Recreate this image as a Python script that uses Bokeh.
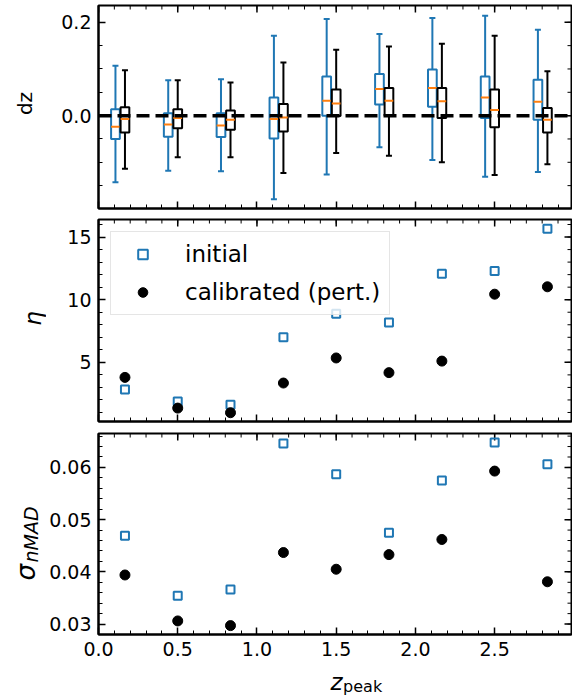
import numpy as np
from math import pi
from bokeh.plotting import figure
from bokeh.layouts import column, row
from bokeh.models import (Range1d, FixedTicker, PrintfTickFormatter,
                          Span, Legend, LegendItem, ColumnDataSource)
from bokeh.core.properties import value
from bokeh.embed import file_html
from bokeh.resources import INLINE

# ---------------- data ----------------
z_bins = [0.167, 0.5, 0.833, 1.167, 1.5, 1.833, 2.167, 2.5, 2.833]

# box statistics of dz (whisker low, Q1, median, Q3, whisker high)
init_lo  = [-0.143, -0.118, -0.119, -0.179, -0.126, -0.068, -0.095, -0.131, -0.121]
init_q1  = [-0.050, -0.045, -0.046, -0.049,  0.000,  0.024,  0.019, -0.005, -0.009]
init_med = [-0.024, -0.019, -0.021, -0.007,  0.032,  0.057,  0.059,  0.039,  0.030]
init_q3  = [ 0.0135, 0.005,  0.005,  0.039,  0.084,  0.089,  0.099,  0.084,  0.077]
init_hi  = [ 0.107,  0.076,  0.078,  0.171,  0.207,  0.175,  0.209,  0.214,  0.184]

cal_lo  = [-0.114, -0.089, -0.089, -0.123, -0.080, -0.086, -0.100, -0.127, -0.104]
cal_q1  = [-0.036, -0.027, -0.030, -0.034, -0.001,  0.000, -0.005, -0.025, -0.036]
cal_med = [-0.007, -0.005, -0.009, -0.004,  0.026,  0.032,  0.031,  0.012, -0.009]
cal_q3  = [ 0.018,  0.0135, 0.011,  0.025,  0.056,  0.059,  0.059,  0.056,  0.0165]
cal_hi  = [ 0.097,  0.076,  0.071,  0.114,  0.141,  0.148,  0.154,  0.171,  0.095]

# outlier fraction eta
eta_init = [2.84, 1.88, 1.62, 7.0, 8.87, 8.18, 12.07, 12.3, 15.67]
eta_cal  = [3.8, 1.35, 0.98, 3.35, 5.35, 4.18, 5.1, 10.44, 11.03]

# sigma_nMAD
sig_init = [0.0469, 0.0354, 0.0366, 0.0646, 0.0587, 0.0475, 0.0575, 0.0648, 0.0606]
sig_cal  = [0.0394, 0.0306, 0.0297, 0.0437, 0.0405, 0.0433, 0.0462, 0.0593, 0.0381]

legend_labels = ["initial", "calibrated (pert.)"]

BLUE = "#1f77b4"
ORANGE = "#ff7f0e"
FONT = "DejaVu Sans"
TICK_FS = "19px"
STRIP_W = 46
MAIN_W = 572 - STRIP_W
X_END = 2.985

x_major = [0.0, 0.5, 1.0, 1.5, 2.0, 2.5, 3.0]
x_minor = [round(v, 2) for v in np.arange(0, 3.01, 0.1)]


def style_axis(ax):
    ax.major_tick_in = 7
    ax.major_tick_out = 0
    ax.minor_tick_in = 4
    ax.minor_tick_out = 0
    ax.major_tick_line_width = 1.5
    ax.minor_tick_line_width = 1
    ax.major_tick_line_color = "black"
    ax.minor_tick_line_color = "black"
    ax.axis_line_width = 2
    ax.axis_line_color = "black"
    ax.axis_label = None
    ax.major_label_text_font_size = TICK_FS
    ax.major_label_text_font = FONT
    ax.major_label_text_color = "black"


def make_fig(yr, height, top, bottom, ymaj, ymin, yfmt, xlabels):
    p = figure(width=MAIN_W, height=height, title=None,
               x_range=Range1d(0, X_END), y_range=Range1d(*yr),
               output_backend="svg", toolbar_location=None,
               min_border_left=50, min_border_right=1,
               min_border_top=top, min_border_bottom=bottom)
    p.grid.grid_line_color = None
    p.outline_line_color = "black"
    p.outline_line_width = 2
    p.border_fill_color = "white"
    p.xaxis.ticker = FixedTicker(ticks=x_major, minor_ticks=x_minor)
    p.xaxis.formatter = PrintfTickFormatter(format="%.1f")
    p.yaxis.ticker = FixedTicker(ticks=ymaj, minor_ticks=ymin)
    p.yaxis.formatter = PrintfTickFormatter(format=yfmt)
    style_axis(p.xaxis[0])
    style_axis(p.yaxis[0])
    p.yaxis[0].major_label_standoff = 7
    p.xaxis[0].major_label_standoff = 7
    if not xlabels:
        p.xaxis[0].major_label_text_color = None
        p.xaxis[0].major_label_text_font_size = "1px"
        p.xaxis[0].major_label_standoff = 0
    # mirrored inward ticks on the top and right spines (clipped to the frame)
    y_top = yr[1]
    p.scatter(x=x_major, y=[y_top] * len(x_major), marker="dash", angle=pi / 2,
              size=14, line_color="black", line_width=1.5)
    p.scatter(x=x_minor, y=[y_top] * len(x_minor), marker="dash", angle=pi / 2,
              size=8, line_color="black", line_width=1)
    p.scatter(x=[X_END] * len(ymaj), y=ymaj, marker="dash",
              size=14, line_color="black", line_width=1.5)
    p.scatter(x=[X_END] * len(ymin), y=ymin, marker="dash",
              size=8, line_color="black", line_width=1)
    return p


# ---------------- top panel: dz boxes ----------------
p1 = make_fig((-0.199, 0.236), 213, 5, 5,
              [-0.2, 0.0, 0.2], [round(v, 3) for v in np.arange(-0.2, 0.251, 0.05)], "%.1f", False)

BOX_W = 0.055


def draw_boxes(p, xs, lo, q1, med, q3, hi, color):
    src = ColumnDataSource(dict(
        x=xs, lo=lo, q1=q1, med=med, q3=q3, hi=hi,
        xl=[x - BOX_W / 2 for x in xs], xr=[x + BOX_W / 2 for x in xs]))
    p.segment(x0="x", y0="q3", x1="x", y1="hi", source=src, line_color=color, line_width=2)
    p.segment(x0="x", y0="lo", x1="x", y1="q1", source=src, line_color=color, line_width=2)
    p.scatter(x="x", y="hi", source=src, marker="dash", size=6, line_color=color, line_width=2)
    p.scatter(x="x", y="lo", source=src, marker="dash", size=6, line_color=color, line_width=2)
    p.vbar(x="x", width=BOX_W, top="q3", bottom="q1", source=src,
           fill_color=None, line_color=color, line_width=2)
    p.segment(x0="xl", y0="med", x1="xr", y1="med", source=src, line_color=ORANGE, line_width=2)


draw_boxes(p1, [z - 0.06 for z in z_bins], init_lo, init_q1, init_med, init_q3, init_hi, BLUE)
draw_boxes(p1, list(z_bins), cal_lo, cal_q1, cal_med, cal_q3, cal_hi, "black")
p1.add_layout(Span(location=0, dimension="width", line_color="black",
                   line_width=3.5, line_dash="13 6"))

# ---------------- middle panel: eta ----------------
p2 = make_fig((0.28, 16.4), 214, 6, 6, [0, 5, 10, 15], list(range(0, 17)), "%d", False)
r_i = p2.scatter(z_bins, eta_init, marker="square", size=8, fill_color=None,
                 line_color=BLUE, line_width=2)
r_c = p2.scatter(z_bins, eta_cal, marker="circle", size=10, fill_color="black",
                 line_color="black")
legend = Legend(items=[LegendItem(label=legend_labels[0], renderers=[r_i]),
                       LegendItem(label=legend_labels[1], renderers=[r_c])],
                location="top_left", margin=12, padding=9, spacing=12,
                glyph_width=45, glyph_height=24, label_height=24, label_standoff=20,
                label_text_font=FONT, label_text_font_size="23px", label_text_color="black",
                border_line_color="#cccccc", border_line_width=1.2,
                background_fill_color="white", background_fill_alpha=0.8)
p2.add_layout(legend)

# ---------------- bottom panel: sigma_nMAD ----------------
XLAB_H = 34
p3 = make_fig((0.028, 0.0665), 700 - 213 - 214 - XLAB_H, 6, 32,
              [0.02, 0.03, 0.04, 0.05, 0.06, 0.07],
              [round(v, 4) for v in np.arange(0.02, 0.0701, 0.002)], "%.2f", True)
p3.scatter(z_bins, sig_init, marker="square", size=8, fill_color=None,
           line_color=BLUE, line_width=2)
p3.scatter(z_bins, sig_cal, marker="circle", size=10, fill_color="black", line_color="black")

# ---------------- axis titles (text strips) ----------------
ylab = figure(width=STRIP_W, height=700, title=None,
              x_range=Range1d(0, STRIP_W), y_range=Range1d(700, 0),
              min_border=0, toolbar_location=None, output_backend="svg",
              x_axis_location=None, y_axis_location=None)
ylab.grid.grid_line_color = None
ylab.outline_line_color = None
ylab.text(x=[24.5], y=[103], text=["dz"], angle=pi / 2, text_align="center",
          text_baseline="middle", text_font=value(FONT), text_font_size="20px",
          text_color="black")
ylab.text(x=[32], y=[318], text=["η"], angle=pi / 2, text_align="center",
          text_baseline="middle", text_font=value(FONT), text_font_style="italic",
          text_font_size="23px", text_color="black")
ylab.text(x=[25], y=[580], text=["σ"], angle=pi / 2, text_align="left",
          text_baseline="alphabetic", text_font=value(FONT), text_font_style="italic",
          text_font_size="26px", text_color="black")
ylab.text(x=[30], y=[562], text=["nMAD"], angle=pi / 2, text_align="left",
          text_baseline="alphabetic", text_font=value(FONT), text_font_style="italic",
          text_font_size="19px", text_color="black")

xlab = figure(width=MAIN_W, height=XLAB_H, title=None,
              x_range=Range1d(STRIP_W, 572), y_range=Range1d(XLAB_H, 0),
              min_border=0, toolbar_location=None, output_backend="svg",
              x_axis_location=None, y_axis_location=None)
xlab.grid.grid_line_color = None
xlab.outline_line_color = None
xlab.text(x=[304], y=[15], text=["z"], text_align="left", text_baseline="middle",
          text_font=value(FONT), text_font_style="italic", text_font_size="23px",
          text_color="black")
xlab.text(x=[318], y=[20], text=["peak"], text_align="left", text_baseline="middle",
          text_font=value(FONT), text_font_size="16px", text_color="black")

layout = row(ylab, column(p1, p2, p3, xlab, spacing=0), spacing=0)
open("out.html", "w").write(file_html(layout, INLINE))
